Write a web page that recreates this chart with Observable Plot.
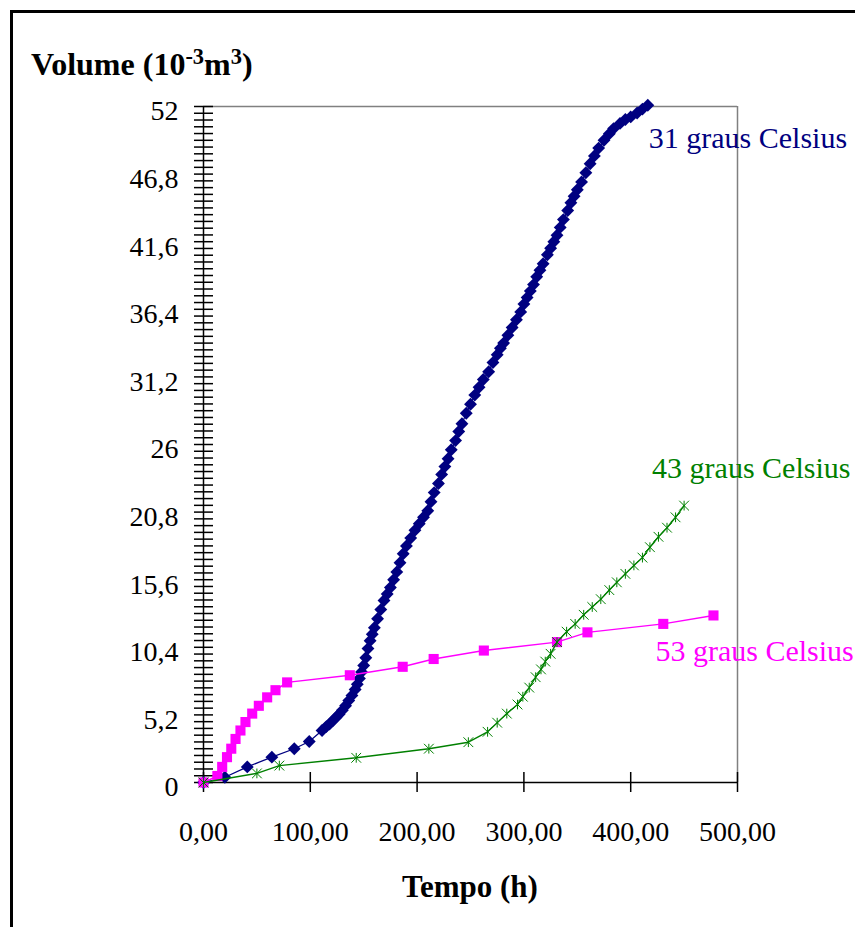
<!DOCTYPE html>
<html><head><meta charset="utf-8">
<script src="https://cdn.jsdelivr.net/npm/d3@7"></script>
<script src="https://cdn.jsdelivr.net/npm/@observablehq/plot@0.6"></script>
<style>
body{margin:0;background:#fff;}
#wrap{position:relative;width:855px;height:927px;overflow:hidden;background:#fff;font-family:"Liberation Serif","Times New Roman",serif;}
#wrap svg{position:absolute;left:0;top:0;}
#frame{position:absolute;left:10px;top:10px;right:-5px;bottom:-5px;border-top:3px solid #000;border-left:3px solid #000;pointer-events:none;}
#title{position:absolute;left:31px;top:48px;font-weight:bold;font-size:32px;line-height:1;white-space:nowrap;}
#title .sp{font-size:0.7em;position:relative;top:-0.5em;}
#xlabel{position:absolute;left:203px;width:534px;top:871px;text-align:center;font-weight:bold;font-size:31px;line-height:1;}
</style></head>
<body>
<div id="wrap">
  <div id="title">Volume (10<span class="sp">-3</span>m<span class="sp">3</span>)</div>
  <div id="xlabel">Tempo (h)</div>
  <div id="frame"></div>
</div>
<script>
// 31 graus Celsius
const t31 = [0,20,41,64,85,99,111,115,118,121,124,127,130,133,136,139,142,144,146,148,150,152,154,156,158,160,163,166,169,172,175,178,181,184,187,190,194,198,202,206,210,213,216,220,223,226,229,232,236,239,242,246,250,254,258,262,267,271,275,278,281,285,289,293,297,300,303,306,309,312,315,318,322,325,328,331,334,337,341,344,347,350,354,358,362,366,370,375,380,384,390,395,400,406,411,416];
const v31 = [0,0.4,1.2,1.95,2.6,3.15,4.0,4.3,4.5,4.75,5.0,5.25,5.55,5.9,6.3,6.7,7.15,7.55,8.0,8.5,9.0,9.6,10.3,10.9,11.4,11.9,12.6,13.3,14.0,14.5,15.0,15.6,16.2,16.9,17.6,18.2,18.8,19.4,19.9,20.4,20.9,21.6,22.3,23.0,23.7,24.3,24.9,25.6,26.3,27.0,27.6,28.4,29.1,29.8,30.4,31.0,31.6,32.3,32.9,33.4,33.8,34.4,35.0,35.6,36.2,36.8,37.3,37.8,38.3,38.9,39.4,39.9,40.6,41.1,41.6,42.1,42.7,43.3,44.0,44.6,45.1,45.6,46.2,46.9,47.6,48.2,48.8,49.4,49.9,50.3,50.7,51.0,51.2,51.5,51.8,52.1];
// 43 graus Celsius
const t43 = [0,50,71,143,211,248,266,275,284,294,299,305,311,316,320,325,331,340,348,356,364,372,380,387,395,403,411,418,426,434,442,450];
const v43 = [0,0.7,1.3,1.9,2.6,3.1,3.9,4.6,5.3,6.0,6.6,7.3,8.1,8.7,9.3,9.9,10.8,11.6,12.2,12.9,13.5,14.1,14.8,15.4,16.05,16.7,17.3,18.1,18.9,19.6,20.4,21.3];
// 53 graus Celsius
const t53 = [0,13,17.5,22,26,30,34.6,39.3,45.6,51.8,59.6,67.4,78.3,137,186.5,215.5,262.5,331,359.5,430.5,477.5];
const v53 = [0,0.5,1.2,1.95,2.6,3.35,4.0,4.65,5.3,5.9,6.55,7.1,7.7,8.25,8.9,9.5,10.15,10.8,11.55,12.2,12.85];

const seriesNames = ["31 graus Celsius","43 graus Celsius","53 graus Celsius"];
const seriesColors = ["#000080","#008000","#ff00ff"];
const yTickLabels = [0,5.2,10.4,15.6,20.8,26,31.2,36.4,41.6,46.8,52];
const xTickLabels = [0,100,200,300,400,500];
const yMinorStep = 0.52;

const toRows = (ts, vs, s) => ts.map((t, i) => ({t, v: vs[i], s}));
const d31 = toRows(t31, v31, seriesNames[0]);
const d43 = toRows(t43, v43, seriesNames[1]);
const d53 = toRows(t53, v53, seriesNames[2]);

const yMinor = d3.range(0, Math.round(52 / yMinorStep) + 1).map(i => +(i * yMinorStep).toFixed(2));
const fmtY = d => String(d).replace(".", ",");
const fmtX = d => d.toFixed(2).replace(".", ",");

const star = {draw(ctx, size) {
  const r = Math.sqrt(size) / 2;
  ctx.moveTo(-r, -r); ctx.lineTo(r, r);
  ctx.moveTo(r, -r); ctx.lineTo(-r, r);
  ctx.moveTo(0, -r); ctx.lineTo(0, r);
}};

const endLabel = (rows, color, dx, dy) =>
  Plot.text([rows.at(-1)], {x: "t", y: "v", text: "s", fill: color, textAnchor: "start", dx, dy, fontSize: 30});

const chart = Plot.plot({
  width: 855, height: 927,
  marginLeft: 203, marginRight: 118, marginTop: 106, marginBottom: 145,
  x: {domain: [0, 500]},
  y: {domain: [0, 52]},
  style: {fontFamily: "'Liberation Serif','Times New Roman',serif", fontSize: "28px", color: "#000", background: "transparent", overflow: "visible"},
  marks: [
    Plot.ruleY([52], {stroke: "#808080", strokeWidth: 1.5}),
    Plot.ruleX([500], {stroke: "#808080", strokeWidth: 1.5}),
    Plot.ruleX([0], {stroke: "#000", strokeWidth: 1.5}),
    Plot.ruleY([0], {stroke: "#000", strokeWidth: 1.5}),
    Plot.axisY(yMinor, {tickSize: 19, dx: 10, fill: "none", stroke: "#000", strokeWidth: 1.5}),
    Plot.axisY(yTickLabels, {tickSize: 0, tickPadding: 25, tickFormat: fmtY, dy: 5, fontSize: 28, label: null}),
    Plot.axisX(xTickLabels, {tickSize: 20, dy: -10, fill: "none", stroke: "#000", strokeWidth: 1.5}),
    Plot.axisX(xTickLabels, {tickSize: 0, tickPadding: 39, tickFormat: fmtX, fontSize: 28, label: null}),
    Plot.line(d31, {x: "t", y: "v", stroke: seriesColors[0], strokeWidth: 1.2}),
    Plot.dot(d31, {x: "t", y: "v", symbol: "diamond2", r: 5.8, fill: seriesColors[0], stroke: "none"}),
    Plot.line(d53, {x: "t", y: "v", stroke: seriesColors[2], strokeWidth: 1.4}),
    Plot.dot(d53, {x: "t", y: "v", symbol: "square", r: 5.7, fill: seriesColors[2], stroke: "none"}),
    Plot.line(d43, {x: "t", y: "v", stroke: seriesColors[1], strokeWidth: 1.4}),
    Plot.dot(d43, {x: "t", y: "v", symbol: star, r: 5.5, stroke: seriesColors[1], strokeWidth: 1, fill: "none"}),
    endLabel(d31, seriesColors[0], 1, 33),
    endLabel(d43, seriesColors[1], -32, -37),
    endLabel(d53, seriesColors[2], -58, 36)
  ]
});
document.getElementById("wrap").insertBefore(chart, document.getElementById("frame"));
</script>
</body></html>
